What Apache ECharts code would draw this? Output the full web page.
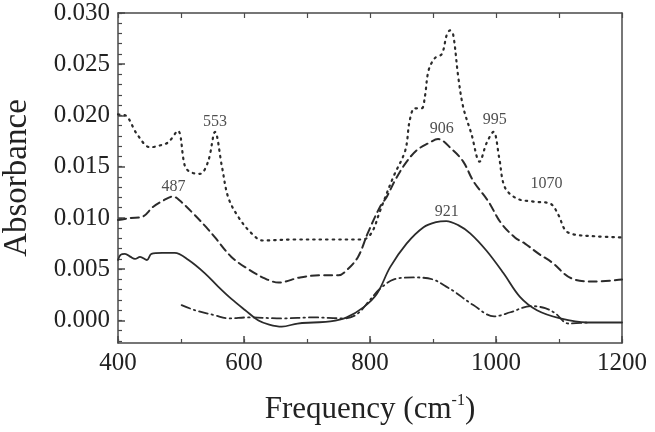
<!DOCTYPE html>
<html>
<head>
<meta charset="utf-8">
<script src="https://cdn.jsdelivr.net/npm/echarts@6/dist/echarts.min.js"></script>
<style>
  html, body { margin: 0; padding: 0; background: #fff; }
  #chart { width: 655px; height: 432px; }
</style>
</head>
<body>
<div id="chart"></div>
<script>
// spectra: [frequency cm-1, absorbance]
const dottedSpectrum = [
  [400, 0.0201], [412, 0.0200], [430, 0.0182], [451, 0.0169], [468, 0.0171], [480, 0.0174],
  [495, 0.0185], [506, 0.0151], [514, 0.0145], [530, 0.0143], [543, 0.0155], [554, 0.0184],
  [565, 0.0150], [575, 0.0120], [591, 0.0101], [612, 0.0085], [630, 0.0078], [680, 0.0079],
  [740, 0.0079], [789, 0.0079], [803, 0.0086], [816, 0.0107], [837, 0.0140], [856, 0.0166],
  [863, 0.0195], [871, 0.0207], [882, 0.0207], [887, 0.0218], [893, 0.0244], [903, 0.0256],
  [914, 0.0260], [922, 0.0279], [927, 0.0283], [932, 0.0279], [940, 0.0238], [948, 0.0208],
  [961, 0.0182], [974, 0.0155], [985, 0.0173], [996, 0.0184], [1005, 0.0159], [1014, 0.0130],
  [1033, 0.0119], [1059, 0.0116], [1086, 0.0114], [1099, 0.0103], [1110, 0.0088], [1123, 0.0084],
  [1160, 0.0082], [1200, 0.0081]
]
const dashedSpectrum = [
  [400, 0.0098], [420, 0.0100], [438, 0.0101], [456, 0.0111], [472, 0.0117], [487, 0.0121],
  [498, 0.0117], [520, 0.0104], [540, 0.0091], [554, 0.0081], [580, 0.0062], [607, 0.0050],
  [633, 0.0041], [655, 0.0037], [689, 0.0042], [720, 0.0044], [750, 0.0044], [763, 0.0049],
  [781, 0.0062], [797, 0.0086], [816, 0.0111], [826, 0.0120], [840, 0.0137], [856, 0.0153],
  [874, 0.0166], [893, 0.0173], [908, 0.0177], [930, 0.0167], [948, 0.0155], [964, 0.0136],
  [988, 0.0116], [1008, 0.0095], [1030, 0.0081], [1046, 0.0075], [1068, 0.0065], [1088, 0.0057],
  [1120, 0.0041], [1157, 0.0038], [1200, 0.0040]
]
const solidSpectrum = [
  [400, 0.0059], [404, 0.0064], [411, 0.0065], [420, 0.0062], [427, 0.0060], [435, 0.0062],
  [446, 0.0059], [453, 0.0065], [470, 0.0066], [490, 0.0066], [512, 0.0059], [538, 0.0046],
  [559, 0.0033], [580, 0.0021], [602, 0.0010], [623, 0.0000], [640, -0.0004], [660, -0.0006],
  [685, -0.0003], [710, -0.0002], [737, -0.0001], [763, 0.0003], [790, 0.0013], [811, 0.0026],
  [832, 0.0052], [858, 0.0075], [885, 0.0091], [905, 0.0096], [921, 0.0097], [940, 0.0093],
  [959, 0.0085], [985, 0.0068], [1012, 0.0046], [1038, 0.0023], [1065, 0.0010], [1102, 0.0002],
  [1144, -0.0002], [1200, -0.0002]
]
const dashDotSpectrum = [
  [501, 0.0015], [522, 0.0010], [554, 0.0005], [575, 0.0002], [607, 0.0003], [660, 0.0002],
  [710, 0.0003], [758, 0.0002], [779, 0.0006], [800, 0.0020], [816, 0.0031], [838, 0.0040],
  [869, 0.0042], [900, 0.0040], [921, 0.0033], [932, 0.0029], [964, 0.0015], [997, 0.0004],
  [1023, 0.0008], [1055, 0.0014], [1078, 0.0012], [1094, 0.0007], [1115, -0.0003], [1146, -0.0002]
]
// peak labels: [x, y, text]
const peakLabels = [
  [554, 0.0194, '553'], [488, 0.0130, '487'], [914, 0.0187, '906'],
  [998, 0.0196, '995'], [1080, 0.0133, '1070'], [922, 0.0106, '921']
]
const yMajorTicks = [0, 0.005, 0.010, 0.015, 0.020, 0.025, 0.030]

const yMinorTicks = []
for (let i = -2; i <= 30; i++) yMinorTicks.push(i / 1000)

const FONT = '"Liberation Serif", "DejaVu Serif", serif'
const AXIS = '#4a4a4a'
const INK = '#222'
const Y_MIN = -0.0022
const Y_MAX = 0.030

function lineSeries(data, type, width) {
  return {
    type: 'line',
    data,
    smooth: 0.35,
    showSymbol: false,
    symbol: 'none',
    lineStyle: { color: '#2b2b2b', width, type, cap: 'round' },
    z: 3,
  }
}

function plainXAxis(position, interval, length) {
  return {
    type: 'value',
    position,
    min: 400,
    max: 1200,
    interval,
    axisLine: { show: position === 'top', onZero: false, lineStyle: { color: AXIS, width: 1.5 } },
    axisTick: { show: true, inside: true, length, lineStyle: { color: AXIS, width: 1.2 } },
    axisLabel: { show: false },
    splitLine: { show: false },
  }
}

function plainYAxis(position, ticks, length, showLine) {
  return {
    type: 'value',
    position,
    min: Y_MIN,
    max: Y_MAX,
    axisLine: { show: showLine, onZero: false, lineStyle: { color: AXIS, width: 1.5 } },
    axisTick: { show: !!ticks, inside: true, length, customValues: ticks || undefined, lineStyle: { color: AXIS, width: 1.2 } },
    axisLabel: { show: false },
    splitLine: { show: false },
  }
}

const chart = echarts.init(document.getElementById('chart'), null, { renderer: 'canvas' })
chart.setOption({
  animation: false,
  grid: { left: 118, right: 33, top: 13, bottom: 89, outerBoundsMode: 'none', containLabel: false },
  xAxis: [{
    type: 'value',
    min: 400,
    max: 1200,
    interval: 200,
    name: '{t|Frequency (cm}{s|-1}{t|)}',
    nameLocation: 'middle',
    nameGap: 50,
    nameTextStyle: {
      rich: {
        t: { fontFamily: FONT, fontSize: 31, color: INK, lineHeight: 34 },
        s: { fontFamily: FONT, fontSize: 16, color: INK, verticalAlign: 'top', lineHeight: 34, padding: [0, 0, 13, 0] },
      },
    },
    axisLine: { show: true, onZero: false, lineStyle: { color: AXIS, width: 1.5 } },
    axisTick: { show: true, inside: true, length: 7, lineStyle: { color: AXIS, width: 1.5 } },
    axisLabel: { fontFamily: FONT, fontSize: 25, color: INK, margin: 8, formatter: (v) => String(v) },
    splitLine: { show: false },
  },
  plainXAxis('bottom', 100, 4),
  plainXAxis('top', 100, 5)],
  yAxis: [{
    type: 'value',
    min: Y_MIN,
    max: Y_MAX,
    name: 'Absorbance',
    nameLocation: 'middle',
    nameGap: 84,
    nameTextStyle: { fontFamily: FONT, fontSize: 33, color: INK },
    axisLine: { show: true, onZero: false, lineStyle: { color: AXIS, width: 1.5 } },
    axisTick: { show: true, inside: true, length: 7, customValues: yMajorTicks, lineStyle: { color: AXIS, width: 1.5 } },
    axisLabel: {
      fontFamily: FONT, fontSize: 25, color: INK, margin: 8,
      customValues: yMajorTicks,
      formatter: (v) => v.toFixed(3),
    },
    splitLine: { show: false },
  },
  plainYAxis('left', yMinorTicks, 4, false),
  plainYAxis('right', null, 0, true)],
  series: [
    lineSeries(dottedSpectrum, [1.5, 5], 2.2),
    lineSeries(dashedSpectrum, [8, 5], 2),
    lineSeries(solidSpectrum, 'solid', 1.8),
    lineSeries(dashDotSpectrum, [9, 4, 1.5, 4], 1.8),
    {
      type: 'scatter',
      data: peakLabels.map((p) => ({ value: [p[0], p[1]], name: p[2] })),
      symbolSize: 0,
      label: {
        show: true,
        position: 'inside',
        formatter: (p) => p.name,
        fontFamily: FONT,
        fontSize: 16,
        color: INK,
      },
      z: 4,
    },
  ],
})
</script>
</body>
</html>
